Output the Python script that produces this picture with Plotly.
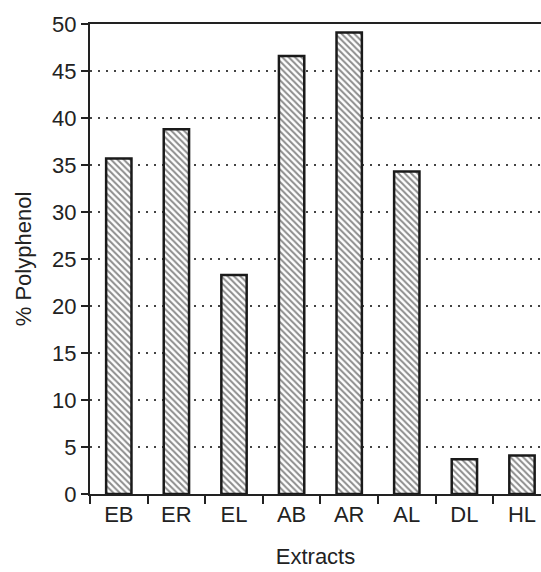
import plotly.graph_objects as go

categories = ["EB", "ER", "EL", "AB", "AR", "AL", "DL", "HL"]
values = [35.7, 38.8, 23.3, 46.6, 49.1, 34.3, 3.7, 4.1]
y_ticks = [0, 5, 10, 15, 20, 25, 30, 35, 40, 45, 50]

fig = go.Figure()
fig.add_trace(go.Bar(
    x=categories, y=values, width=0.44,
    marker=dict(
        color="white",
        line=dict(color="#1a1a1a", width=2.5),
        pattern=dict(shape="\\", fgcolor="#1a1a1a", bgcolor="white", size=4.5, solidity=0.45),
    ),
))

font = dict(family="Liberation Sans, Arial, sans-serif", size=22, color="#222222")

fig.update_layout(
    width=541, height=572,
    margin=dict(l=90, r=0, t=24, b=78),
    paper_bgcolor="white", plot_bgcolor="white",
    showlegend=False,
    font=font,
)
fig.update_xaxes(
    type="category",
    range=[-0.5, 7.33],
    showline=True, linecolor="#222222", linewidth=2, mirror=True,
    ticks="outside", ticklen=8, tickwidth=1.5, tickcolor="#222222",
    tickson="boundaries",
    showgrid=False,
    title=dict(text="Extracts", standoff=22, font=font),
    tickfont=font,
)
fig.update_yaxes(
    range=[0, 50],
    tickvals=y_ticks,
    showline=True, linecolor="#222222", linewidth=2, mirror=False,
    ticks="outside", ticklen=7, tickwidth=1.5, tickcolor="#222222",
    showgrid=True, gridcolor="#444444", gridwidth=1.5, griddash="2px,6px",
    zeroline=False,
    title=dict(text="% Polyphenol", standoff=14, font=font),
    tickfont=font,
)

fig.write_html("out.html")
